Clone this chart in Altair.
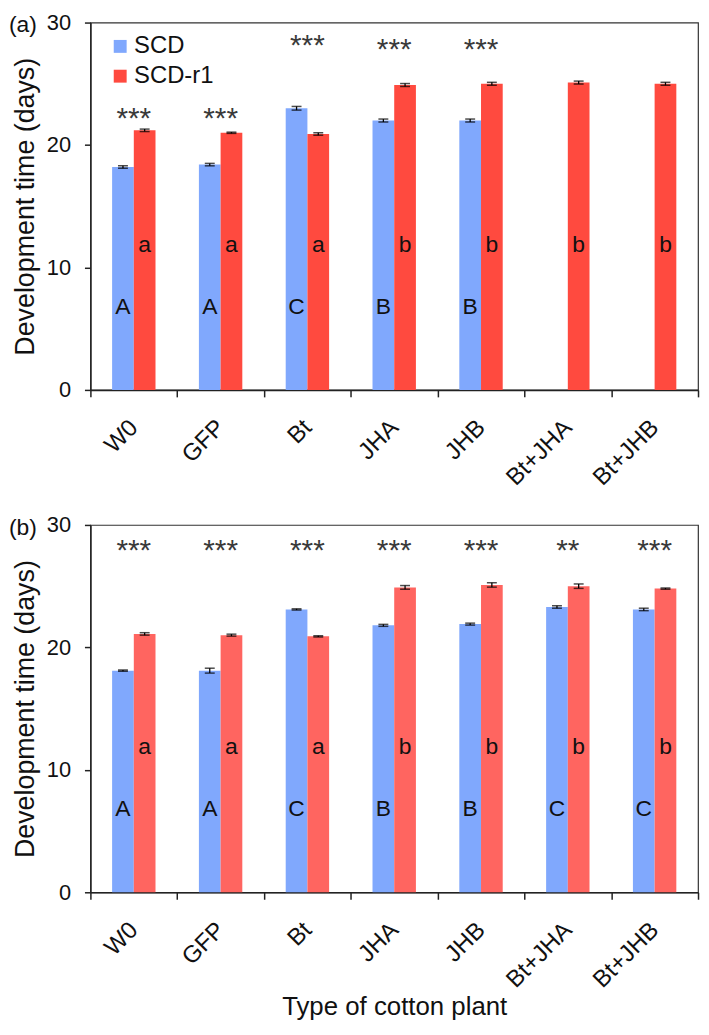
import altair as alt
import pandas as pd

FONT = "Liberation Sans"

categories = ["W0", "GFP", "Bt", "JHA", "JHB", "Bt+JHA", "Bt+JHB"]
series = ["SCD", "SCD-r1"]

# Panel (a)
a_scd = [18.2, 18.4, 23.0, 22.0, 22.0, None, None]
a_scd_err = [0.1, 0.1, 0.15, 0.12, 0.12, None, None]
a_r1 = [21.2, 21.0, 20.9, 24.9, 25.0, 25.1, 25.0]
a_r1_err = [0.1, 0.05, 0.1, 0.12, 0.12, 0.12, 0.12]
a_scd_letters = ["A", "A", "C", "B", "B", "", ""]
a_r1_letters = ["a", "a", "a", "b", "b", "b", "b"]
a_stars = ["***", "***", "***", "***", "***", "", ""]
a_star_y = [22.8, 22.8, 28.7, 28.4, 28.4, None, None]

# Panel (b)
b_scd = [18.1, 18.1, 23.1, 21.8, 21.9, 23.3, 23.1]
b_scd_err = [0.05, 0.2, 0.05, 0.08, 0.08, 0.1, 0.1]
b_r1 = [21.1, 21.0, 20.9, 24.9, 25.1, 25.0, 24.8]
b_r1_err = [0.1, 0.08, 0.05, 0.15, 0.18, 0.18, 0.05]
b_scd_letters = ["A", "A", "C", "B", "B", "C", "C"]
b_r1_letters = ["a", "a", "a", "b", "b", "b", "b"]
b_stars = ["***", "***", "***", "***", "***", "**", "***"]
b_star_y = [28.5, 28.5, 28.5, 28.5, 28.5, 28.5, 28.5]

blue = "#80a8fd"
red_a = "#ff4a3f"
red_b = "#ff6560"


def bars_df(scd, scd_err, r1, r1_err, scd_l, r1_l):
    rows = []
    for i, c in enumerate(categories):
        for s, vals, errs, lets in (("SCD", scd, scd_err, scd_l), ("SCD-r1", r1, r1_err, r1_l)):
            v = vals[i]
            if v is None:
                continue
            e = errs[i]
            rows.append(dict(category=c, series=s, value=v, lo=v - e, hi=v + e, letter=lets[i]))
    return pd.DataFrame(rows)


def stars_df(stars, ys):
    rows = []
    for c, s, y in zip(categories, stars, ys):
        if s and y is not None:
            rows.append(dict(category=c, stars=s, star_y=y))
    return pd.DataFrame(rows)


def panel(df, sdf, red, tag, show_legend, xtitle):
    xaxis = alt.Axis(
        title=xtitle,
        labelAngle=-45,
        labelAlign="right",
        labelBaseline="middle",
        labelPadding=27,
        labelFontSize=24,
        tickBand="extent",
        tickSize=7,
        titleFontSize=26,
        titlePadding=2,
    )
    yaxis = alt.Axis(
        values=[0, 10, 20, 30],
        title="Development time (days)",
        titleFontSize=27,
        titlePadding=7,
        labelFontSize=22,
        labelPadding=14,
        tickSize=6,
    )
    x = alt.X("category:N", sort=categories,
              scale=alt.Scale(domain=categories, paddingInner=0, paddingOuter=0),
              axis=xaxis)
    xo = alt.XOffset("series:N", sort=series,
                     scale=alt.Scale(domain=series, paddingInner=0, paddingOuter=1))
    yscale = alt.Scale(domain=[0, 30], nice=False)

    if show_legend:
        legend = alt.Legend(
            orient="none", legendX=18, legendY=12, title=None,
            symbolType="square", symbolSize=169, symbolStrokeWidth=0,
            labelFontSize=24, labelFont=FONT, labelColor="#111",
            rowPadding=6, labelOffset=2, padding=0,
        )
    else:
        legend = None

    base = alt.Chart(df)
    bars = base.mark_bar().encode(
        x=x, xOffset=xo,
        y=alt.Y("value:Q", scale=yscale, axis=yaxis),
        color=alt.Color("series:N", sort=series,
                        scale=alt.Scale(domain=series, range=[blue, red]),
                        legend=legend),
    )
    rule = base.mark_rule(color="black", strokeWidth=1.3).encode(
        x=x, xOffset=xo,
        y=alt.Y("lo:Q", scale=yscale, axis=yaxis), y2="hi:Q",
    )
    cap_lo = base.mark_tick(color="black", thickness=1.5, size=10).encode(
        x=x, xOffset=xo, y=alt.Y("lo:Q", scale=yscale, axis=yaxis))
    cap_hi = base.mark_tick(color="black", thickness=1.5, size=10).encode(
        x=x, xOffset=xo, y=alt.Y("hi:Q", scale=yscale, axis=yaxis))
    up = base.transform_filter("datum.series == 'SCD'").mark_text(
        font=FONT, fontSize=23, color="#111", baseline="alphabetic").encode(
        x=x, xOffset=xo, y=alt.datum(6.2, scale=yscale), text="letter:N")
    low = base.transform_filter("datum.series == 'SCD-r1'").mark_text(
        font=FONT, fontSize=23, color="#111", baseline="alphabetic").encode(
        x=x, xOffset=xo, y=alt.datum(11.3, scale=yscale), text="letter:N")
    stars = alt.Chart(sdf).mark_text(
        font=FONT, fontSize=30, color="#3a3a3a", baseline="alphabetic", dy=17).encode(
        x=alt.X("category:N", sort=categories,
                scale=alt.Scale(domain=categories, paddingInner=0, paddingOuter=0),
                axis=xaxis),
        y=alt.Y("star_y:Q", scale=yscale, axis=yaxis),
        text="stars:N",
    )
    label = alt.Chart(pd.DataFrame({"t": [tag]})).mark_text(
        font=FONT, fontSize=23, color="#111", align="left", baseline="middle").encode(
        x=alt.value(-82), y=alt.value(3), text="t:N")

    return alt.layer(bars, rule, cap_lo, cap_hi, up, low, stars, label).properties(
        width=612, height=370)


pa = panel(bars_df(a_scd, a_scd_err, a_r1, a_r1_err, a_scd_letters, a_r1_letters),
           stars_df(a_stars, a_star_y), red_a, "(a)", True, None)
pb = panel(bars_df(b_scd, b_scd_err, b_r1, b_r1_err, b_scd_letters, b_r1_letters),
           stars_df(b_stars, b_star_y), red_b, "(b)", False, "Type of cotton plant")

chart = alt.vconcat(pa, pb, spacing=22).resolve_scale(color="independent").resolve_legend(
    color="independent"
).properties(
    padding={"left": 0, "top": -1, "right": 1, "bottom": 0}
).configure_view(
    stroke="#333", strokeWidth=1.2
).configure_axis(
    grid=False, domainColor="#222", domainWidth=1.5, tickColor="#222", tickWidth=1.5,
    labelColor="#111", titleColor="#111", labelFont=FONT, titleFont=FONT,
    titleFontWeight="normal",
).configure_text(font=FONT)

chart.save("out.html", embed_options={"renderer": "svg", "actions": False})
